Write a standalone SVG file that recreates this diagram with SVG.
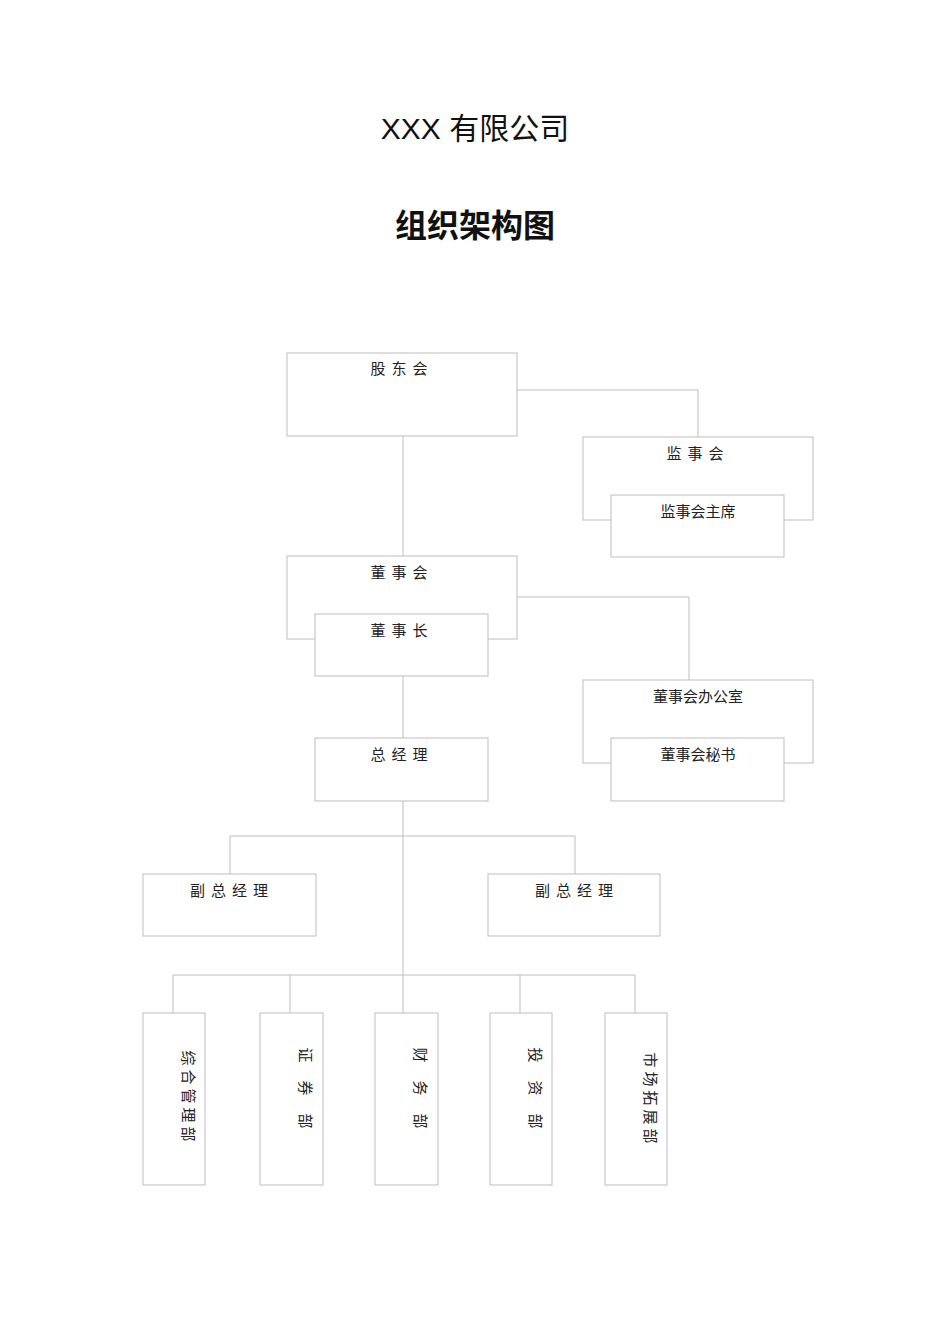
<svg xmlns="http://www.w3.org/2000/svg" width="950" height="1344" viewBox="0 0 950 1344">
<style>
.b{fill:#fff;stroke:#bdbdbd;stroke-width:1}
.t{font-family:"Noto Sans CJK SC","Liberation Sans",sans-serif;font-size:15px;fill:#222;text-anchor:middle}
.c line,.c polyline{stroke:#bdbdbd;stroke-width:1;fill:none}
</style>
<rect width="950" height="1344" fill="#fff"/>
<text x="475" y="139" font-family="'Liberation Sans','Noto Sans CJK SC',sans-serif" font-size="30" text-anchor="middle" fill="#111">XXX 有限公司</text>
<text x="475" y="237" font-family="'Noto Sans CJK SC',sans-serif" font-size="32" font-weight="bold" text-anchor="middle" fill="#111">组织架构图</text>
<g class="c" id="connectors">
<line x1="403" y1="436" x2="403" y2="556"/>
<polyline points="517,390 698,390 698,437"/>
<polyline points="517,597 689,597 689,680"/>
<line x1="403" y1="676" x2="403" y2="738"/>
<line x1="403" y1="801" x2="403" y2="975"/>
<polyline points="230,874 230,836 575,836 575,874"/>
<line x1="173" y1="975" x2="635" y2="975"/>
<line x1="173" y1="975" x2="173" y2="1013"/>
<line x1="290" y1="975" x2="290" y2="1013"/>
<line x1="403" y1="975" x2="403" y2="1013"/>
<line x1="520" y1="975" x2="520" y2="1013"/>
<line x1="635" y1="975" x2="635" y2="1013"/>
</g>
<g id="n1"><rect class="b" x="287" y="353" width="230" height="83"/><text class="t" x="402" y="374" letter-spacing="6">股东会</text></g>
<g id="n2"><rect class="b" x="583" y="437" width="230" height="83"/><text class="t" x="698" y="459" letter-spacing="6">监事会</text></g>
<g id="n3"><rect class="b" x="611" y="495" width="173" height="62"/><text class="t" x="698" y="517">监事会主席</text></g>
<g id="n4"><rect class="b" x="287" y="556" width="230" height="83"/><text class="t" x="402" y="578" letter-spacing="6">董事会</text></g>
<g id="n5"><rect class="b" x="315" y="614" width="173" height="62"/><text class="t" x="402" y="636" letter-spacing="6">董事长</text></g>
<g id="n6"><rect class="b" x="583" y="680" width="230" height="83"/><text class="t" x="698" y="702">董事会办公室</text></g>
<g id="n7"><rect class="b" x="611" y="738" width="173" height="63"/><text class="t" x="698" y="760">董事会秘书</text></g>
<g id="n8"><rect class="b" x="315" y="738" width="173" height="63"/><text class="t" x="402" y="760" letter-spacing="6">总经理</text></g>
<g id="n9"><rect class="b" x="143" y="874" width="173" height="62"/><text class="t" x="232" y="896" letter-spacing="6">副总经理</text></g>
<g id="n10"><rect class="b" x="488" y="874" width="172" height="62"/><text class="t" x="577" y="896" letter-spacing="6">副总经理</text></g>
<g id="n11"><rect class="b" x="143" y="1013" width="62" height="172"/><text class="t" transform="translate(183,1098) rotate(90)" letter-spacing="4">综合管理部</text></g>
<g id="n12"><rect class="b" x="260" y="1013" width="63" height="172"/><text class="t" transform="translate(300,1097) rotate(90)" letter-spacing="18">证券部</text></g>
<g id="n13"><rect class="b" x="375" y="1013" width="63" height="172"/><text class="t" transform="translate(415,1097) rotate(90)" letter-spacing="18">财务部</text></g>
<g id="n14"><rect class="b" x="490" y="1013" width="62" height="172"/><text class="t" transform="translate(530,1097) rotate(90)" letter-spacing="18">投资部</text></g>
<g id="n15"><rect class="b" x="605" y="1013" width="62" height="172"/><text class="t" transform="translate(645,1100) rotate(90)" letter-spacing="4">市场拓展部</text></g>
</svg>
